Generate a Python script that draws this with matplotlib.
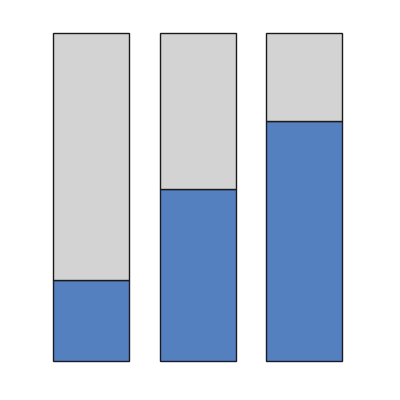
import matplotlib
matplotlib.use("Agg")
import matplotlib.pyplot as plt
import numpy as np

categories = ["A", "B", "C"]
filled = [0.247, 0.524, 0.732]
remaining = [1 - v for v in filled]

fig = plt.figure(figsize=(4, 4), dpi=100)
ax = fig.add_axes([0, 0, 1, 1])
x = np.arange(len(categories))
ax.bar(x, filled, width=0.714, color="#5480c0", edgecolor="#1a1a2a", linewidth=1)
ax.bar(x, remaining, bottom=filled, width=0.714, color="#d3d3d3", edgecolor="#1a1a1a", linewidth=1)
ax.set_xlim(-0.859, 2.897)
ax.set_ylim(-0.119, 1.1006)
ax.axis("off")
fig.savefig("out.png", dpi=100, facecolor="white")
